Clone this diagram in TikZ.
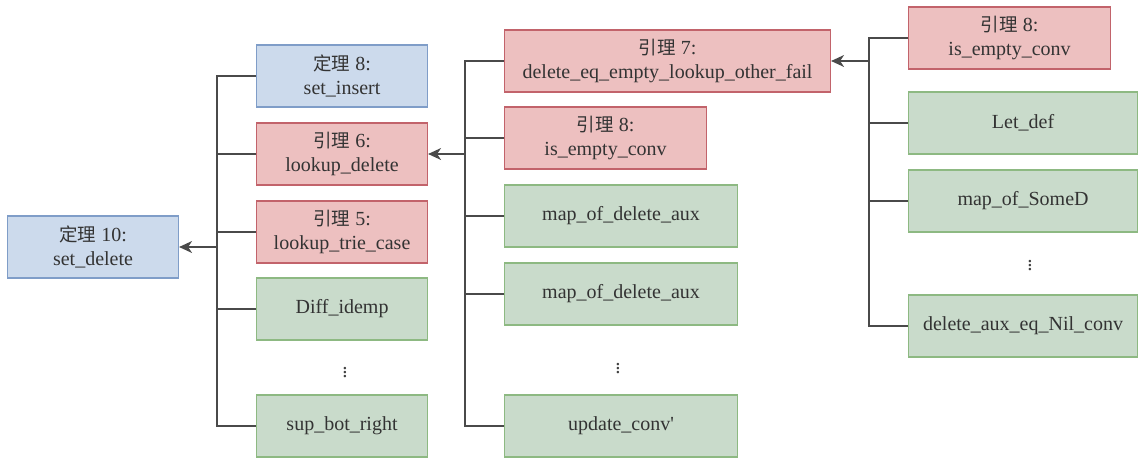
\documentclass[tikz,border=0pt]{standalone}
\usepackage{fontspec}
\setmainfont{Liberation Serif}
\newfontfamily\cjk{Noto Sans CJK SC}
\usetikzlibrary{arrows.meta}
\definecolor{bluefill}{HTML}{CCDAEC}
\definecolor{bluedraw}{HTML}{7F9DC8}
\definecolor{redfill}{HTML}{EDC0C0}
\definecolor{reddraw}{HTML}{C2636B}
\definecolor{greenfill}{HTML}{C9DBCB}
\definecolor{greendraw}{HTML}{8DB982}
\definecolor{linkgray}{HTML}{4A4A4A}
\newcommand{\zh}[1]{{\cjk\fontsize{18.5}{23}\selectfont #1}}
\begin{document}
\begin{tikzpicture}[x=1pt,y=-1pt,
  box/.style={draw, line width=1.1pt, minimum height=62pt, align=center,
    font=\fontsize{20}{23.5}\selectfont, text=black!80, inner sep=0pt, anchor=west},
  thm/.style={box, fill=bluefill, draw=bluedraw},
  lem/.style={box, fill=redfill, draw=reddraw},
  aux/.style={box, fill=greenfill, draw=greendraw},
  link/.style={draw=linkgray, line width=1.3pt},
  dep/.style={link, -{Stealth[length=13pt,width=12pt,inset=4pt]}},
  dots/.style={font=\fontsize{21}{24}\selectfont, text=black!75, inner sep=0pt}
]
\useasboundingbox (0,0) rectangle (1138,459);

% root theorem
\node[thm, minimum width=171pt] (root) at (7,247) {\zh{定理} 10:\\set\_delete};

% first level of dependencies
\node[thm, minimum width=171pt] (setins) at (256,76) {\zh{定理} 8:\\set\_insert};
\node[lem, minimum width=171pt] (lookdel) at (256,154) {\zh{引理} 6:\\lookup\_delete};
\node[lem, minimum width=171pt] (trie) at (256,232) {\zh{引理} 5:\\lookup\_trie\_case};
\node[aux, minimum width=171pt] (diff) at (256,309) {Diff\_idemp};
\node[dots] (dotsA) at (345,370) {$\vdots$};
\node[aux, minimum width=171pt] (supbot) at (256,426) {sup\_bot\_right};

% dependencies of lookup_delete
\node[lem, minimum width=326pt] (delfail) at (504,61) {\zh{引理} 7:\\delete\_eq\_empty\_lookup\_other\_fail};
\node[lem, minimum width=202pt] (isempA) at (504,138) {\zh{引理} 8:\\is\_empty\_conv};
\node[aux, minimum width=233pt] (mapA) at (504,216) {map\_of\_delete\_aux};
\node[aux, minimum width=233pt] (mapB) at (504,294) {map\_of\_delete\_aux};
\node[dots] (dotsB) at (618,366) {$\vdots$};
\node[aux, minimum width=233pt] (upd) at (504,426) {update\_conv\textquotesingle};

% dependencies of delete_eq_empty_lookup_other_fail
\node[lem, minimum width=202pt] (isempB) at (908,38) {\zh{引理} 8:\\is\_empty\_conv};
\node[aux, minimum width=229pt] (letdef) at (908,123) {Let\_def};
\node[aux, minimum width=229pt] (somed) at (908,201) {map\_of\_SomeD};
\node[dots] (dotsC) at (1030,263) {$\vdots$};
\node[aux, minimum width=229pt] (nilconv) at (908,326) {delete\_aux\_eq\_Nil\_conv};

% trunk positions
\coordinate (tA) at (217,247);
\coordinate (tB) at (465,154);
\coordinate (tC) at (869,61);

% tree of root
\draw[link] (setins.west) -- (setins.west -| tA) -- (supbot.west -| tA) -- (supbot.west);
\foreach \n in {lookdel,trie,diff} \draw[link] (\n.west) -- (\n.west -| tA);
\draw[dep] (tA) -- (root.east);

% tree of lookup_delete
\draw[link] (delfail.west) -- (delfail.west -| tB) -- (upd.west -| tB) -- (upd.west);
\foreach \n in {isempA,mapA,mapB} \draw[link] (\n.west) -- (\n.west -| tB);
\draw[dep] (tB) -- (lookdel.east);

% tree of delete_eq_empty_lookup_other_fail
\draw[link] (isempB.west) -- (isempB.west -| tC) -- (nilconv.west -| tC) -- (nilconv.west);
\foreach \n in {letdef,somed} \draw[link] (\n.west) -- (\n.west -| tC);
\draw[dep] (tC) -- (delfail.east);
\end{tikzpicture}
\end{document}
